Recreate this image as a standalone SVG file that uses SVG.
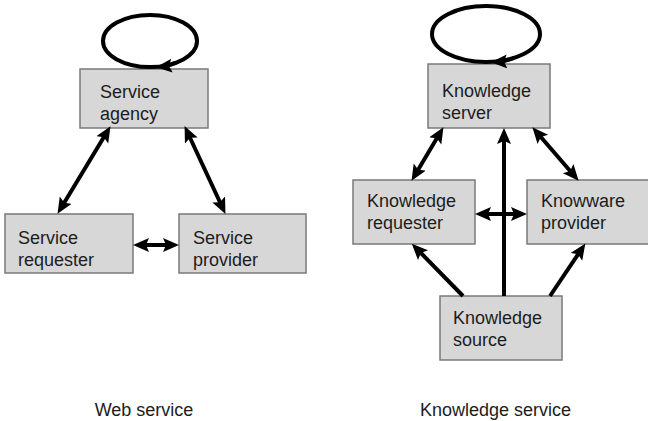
<svg xmlns="http://www.w3.org/2000/svg" width="648" height="421" viewBox="0 0 648 421">
<style>
.box{fill:#d7d7d7;stroke:#7a7a7a;stroke-width:1.5}
.t{font-family:"Liberation Sans",Arial,sans-serif;font-size:18px;fill:#1c1c1c}
.c{fill:none;stroke:#000;stroke-width:4}
</style>
<defs>
<marker id="ah" markerUnits="userSpaceOnUse" markerWidth="18" markerHeight="16" refX="10" refY="7" orient="auto-start-reverse">
<path d="M0,0 L16,7 L0,14 L3,7 z" fill="#000"/>
</marker>
</defs>
<rect width="648" height="421" fill="#fff"/>
<g id="service-agency"><rect class="box" x="80" y="69" width="128" height="59"/><text class="t" x="100" y="98">Service</text><text class="t" x="100" y="120">agency</text></g>
<g id="service-requester"><rect class="box" x="5" y="214" width="128" height="59"/><text class="t" x="18" y="244">Service</text><text class="t" x="18" y="266">requester</text></g>
<g id="service-provider"><rect class="box" x="179" y="214" width="127" height="59"/><text class="t" x="193" y="244">Service</text><text class="t" x="193" y="266">provider</text></g>
<g id="knowledge-server"><rect class="box" x="428" y="64" width="122" height="64"/><text class="t" x="442" y="97">Knowledge</text><text class="t" x="442" y="119">server</text></g>
<g id="knowledge-requester"><rect class="box" x="353" y="180" width="122" height="64"/><text class="t" x="367" y="207">Knowledge</text><text class="t" x="367" y="229">requester</text></g>
<g id="knowware-provider"><rect class="box" x="527" y="180" width="124" height="64"/><text class="t" x="541" y="207">Knowware</text><text class="t" x="541" y="229">provider</text></g>
<g id="knowledge-source"><rect class="box" x="440" y="296" width="122" height="64"/><text class="t" x="453" y="324">Knowledge</text><text class="t" x="453" y="346">source</text></g>
<g id="connectors">
<ellipse class="c" cx="150" cy="41" rx="47" ry="26"/>
<path class="c" d="M176,62.5 Q168,66 162,66.6" marker-end="url(#ah)"/>
<ellipse class="c" cx="486" cy="34" rx="54" ry="28"/>
<path class="c" d="M514,58 Q505,61.5 497,61.9" marker-end="url(#ah)"/>
<line class="c" x1="60.6" y1="208.7" x2="107.4" y2="131.3" marker-start="url(#ah)" marker-end="url(#ah)"/>
<line class="c" x1="222.9" y1="208.5" x2="187.1" y2="131.5" marker-start="url(#ah)" marker-end="url(#ah)"/>
<line class="c" x1="139" y1="245" x2="173" y2="245" marker-start="url(#ah)" marker-end="url(#ah)"/>
<line class="c" x1="440.4" y1="132.3" x2="414.6" y2="175.7" marker-start="url(#ah)" marker-end="url(#ah)"/>
<line class="c" x1="536.3" y1="131.8" x2="574.7" y2="176.2" marker-start="url(#ah)" marker-end="url(#ah)"/>
<line class="c" x1="504" y1="296" x2="504" y2="134" marker-end="url(#ah)"/>
<line class="c" x1="481" y1="214" x2="521" y2="214" marker-start="url(#ah)" marker-end="url(#ah)"/>
<line class="c" x1="463" y1="296" x2="416" y2="248" marker-end="url(#ah)"/>
<line class="c" x1="550" y1="296" x2="582" y2="248.5" marker-end="url(#ah)"/>
</g>
<g id="captions">
<text class="t" x="144" y="416" text-anchor="middle">Web service</text>
<text class="t" x="495.5" y="416" text-anchor="middle">Knowledge service</text>
</g>
</svg>
